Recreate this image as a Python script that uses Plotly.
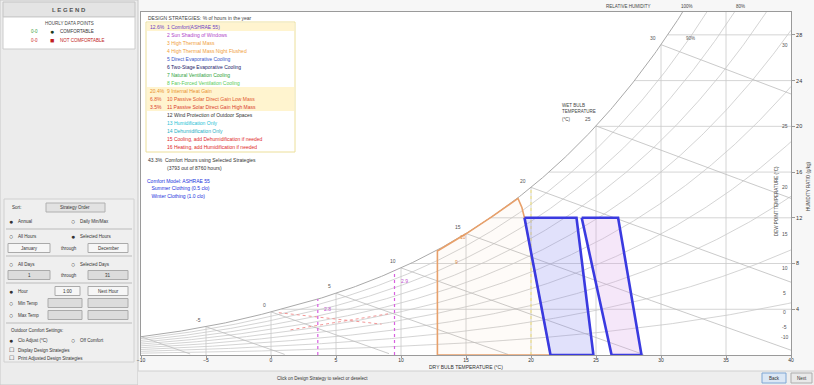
import numpy as np
import plotly.graph_objects as go

# ---------------------------------------------------------------- page geometry
FIG_W, FIG_H = 814, 385
ML, MR, MT, MB = 141, 23, 12, 30
PW = FIG_W - ML - MR
PH = FIG_H - MT - MB
P_ATM = 101.325  # kPa
FONT = "Liberation Sans"

# ---------------------------------------------------------------- chart values
dry_bulb_ticks = [-10, -5, 0, 5, 10, 15, 20, 25, 30, 35, 40]
humidity_ticks = [4, 8, 12, 16, 20, 24, 28]          # g/kg
rh_levels = [0.1, 0.2, 0.3, 0.4, 0.5, 0.6, 0.7, 0.8, 0.9]
wet_bulb_levels = [-10, -5, 0, 5, 10, 15, 20, 25, 30]
dew_point_levels = [-10, -5, 0, 5, 10, 15, 20, 25, 30]

# ASHRAE 55 comfort zones (dry bulb °C, humidity ratio g/kg)
winter_zone_t = [19.5, 23.5, 24.8, 21.5, 19.5]
winter_zone_w = [12.0, 12.0, 0.0, 0.0, 12.0]
summer_zone_t = [23.9, 26.7, 28.5, 26.2, 23.9]
summer_zone_w = [12.0, 12.0, 0.0, 0.0, 12.0]

# passive solar direct gain zone
solar_zone_t = [12.8, 12.8, 15.0, 17.0, 19.0, 19.3, 19.5, 21.5, 12.8]
solar_zone_w = [0.0, 9.1, 10.6, 12.1, 13.7, 12.9, 12.0, 0.0, 0.0]

# humidification limits (dry bulb °C, top humidity ratio g/kg)
humid_limit_t = [3.6, 9.5]
humid_limit_w = [4.9, 7.4]
humid_limit_lbl = ["2.8", "2.9"]

# internal heat gain guide lines
heat_gain_t = [[0.6, 8.5], [1.5, 9.0]]
heat_gain_w = [[3.7, 2.7], [2.2, 3.6]]

# sun shading boundary
shading_t = 20.0

# design strategies list
strategy_names = [
    "1 Comfort(ASHRAE 55)",
    "2 Sun Shading of Windows",
    "3 High Thermal Mass",
    "4 High Thermal Mass Night Flushed",
    "5 Direct Evaporative Cooling",
    "6 Two-Stage Evaporative Cooling",
    "7 Natural Ventilation Cooling",
    "8 Fan-Forced Ventilation Cooling",
    "9 Internal Heat Gain",
    "10 Passive Solar Direct Gain Low Mass",
    "11 Passive Solar Direct Gain High Mass",
    "12 Wind Protection of Outdoor Spaces",
    "13 Humidification Only",
    "14 Dehumidification Only",
    "15 Cooling, add Dehumidification if needed",
    "16 Heating, add Humidification if needed",
]
strategy_pct = ["12.6%", "", "", "", "", "", "", "", "20.4%", "6.8%", "3.5%",
                "", "", "", "", ""]
strategy_colors = ["#6b3fc4", "#b145c9", "#f0a03c", "#f0a03c", "#3a55c8",
                   "#22226a", "#2f9f3a", "#58cc58", "#e8902e", "#e2572e",
                   "#d93a2e", "#333333", "#26c0d4", "#26b0c4", "#e02a2a",
                   "#e02a2a"]
total_pct = "43.3%"
total_hours = 3793


# ---------------------------------------------------------------- psychrometrics
def p_ws(t):
    t = np.asarray(t, dtype=float)
    water = 0.61094 * np.exp(17.625 * t / (t + 243.04))
    ice = 0.61115 * np.exp(22.452 * t / (272.55 + t))
    return np.where(t < 0, ice, water)


def w_rh(t, rh):
    pv = rh * p_ws(t)
    return 622.0 * pv / (P_ATM - pv)


def w_wet_bulb(t, twb):
    ws = w_rh(twb, 1.0) / 1000.0
    w = ((2501 - 2.326 * twb) * ws - 1.006 * (t - twb)) / (2501 + 1.86 * t - 4.186 * twb)
    return 1000.0 * w


t_fine = np.linspace(-10, 40, 401)
w_sat = w_rh(t_fine, 1.0)


def dew_point(w):
    return float(np.interp(w, w_sat, t_fine))


def px(x):
    return (x - ML) / PW


def py(y):
    return (FIG_H - MB - y) / PH


fig = go.Figure()
GRID = "#c9c9c9"

# RH curves
xs, ys = [], []
for rh in rh_levels:
    xs += list(t_fine) + [None]
    ys += list(w_rh(t_fine, rh)) + [None]
fig.add_trace(go.Scatter(x=xs, y=ys, mode="lines", line=dict(color=GRID, width=0.8),
                         hoverinfo="skip", showlegend=False))

# dry bulb verticals up to saturation, humidity ratio horizontals from saturation
xs, ys = [], []
for t in dry_bulb_ticks[1:-1]:
    xs += [t, t, None]
    ys += [0, min(30, float(w_rh(t, 1.0))), None]
for w in humidity_ticks:
    xs += [dew_point(w), 40, None]
    ys += [w, w, None]
fig.add_trace(go.Scatter(x=xs, y=ys, mode="lines", line=dict(color=GRID, width=0.8),
                         hoverinfo="skip", showlegend=False))

# wet bulb lines
xs, ys = [], []
for twb in wet_bulb_levels:
    tt = np.linspace(twb, 40, 120)
    ww = w_wet_bulb(tt, twb)
    keep = ww >= 0
    xs += list(tt[keep]) + [None]
    ys += list(ww[keep]) + [None]
fig.add_trace(go.Scatter(x=xs, y=ys, mode="lines", line=dict(color="#bdbdbd", width=0.8),
                         hoverinfo="skip", showlegend=False))

# saturation curve
fig.add_trace(go.Scatter(x=t_fine, y=w_sat, mode="lines", line=dict(color="#a9a9a9", width=1),
                         hoverinfo="skip", showlegend=False))

# sun shading boundary
fig.add_trace(go.Scatter(x=[shading_t, shading_t], y=[0, float(w_rh(shading_t, 1.0))],
                         mode="lines", line=dict(color="#f2e27a", width=1, dash="dot"),
                         hoverinfo="skip", showlegend=False))

# internal heat gain guides
for tt, ww in zip(heat_gain_t, heat_gain_w):
    fig.add_trace(go.Scatter(x=tt, y=ww, mode="lines",
                             line=dict(color="#f08a8a", width=0.9, dash="dot"),
                             hoverinfo="skip", showlegend=False))

# humidification limits
for t, w in zip(humid_limit_t, humid_limit_w):
    fig.add_trace(go.Scatter(x=[t, t], y=[0, w], mode="lines",
                             line=dict(color="#d860e0", width=1.2, dash="dot"),
                             hoverinfo="skip", showlegend=False))

# passive solar zone
fig.add_trace(go.Scatter(x=solar_zone_t, y=solar_zone_w, mode="lines",
                         line=dict(color="#e8a06a", width=1.6),
                         fill="toself", fillcolor="rgba(240,170,110,0.05)",
                         hoverinfo="skip", showlegend=False))

# comfort zones
fig.add_trace(go.Scatter(x=winter_zone_t, y=winter_zone_w, mode="lines",
                         line=dict(color="#3a3ae0", width=2.6),
                         fill="toself", fillcolor="rgba(120,120,235,0.22)",
                         hoverinfo="skip", showlegend=False))
fig.add_trace(go.Scatter(x=summer_zone_t, y=summer_zone_w, mode="lines",
                         line=dict(color="#3a3ae0", width=2.6),
                         fill="toself", fillcolor="rgba(215,160,230,0.25)",
                         hoverinfo="skip", showlegend=False))

ann = []
shapes = []


def text(x, y, s, size=5.5, color="#333", anchor="left", angle=0, bold=False, ref="px"):
    if bold:
        s = "<b>" + s + "</b>"
    if ref == "px":
        ann.append(dict(x=px(x), y=py(y), xref="paper", yref="paper", text=s,
                        showarrow=False, xanchor=anchor, yanchor="middle", textangle=angle,
                        font=dict(size=size, color=color, family=FONT)))
    else:
        ann.append(dict(x=x, y=y, xref="x", yref="y", text=s, showarrow=False,
                        xanchor=anchor, yanchor="middle", textangle=angle,
                        font=dict(size=size, color=color, family=FONT)))


def rect(x0, y0, x1, y1, fill=None, line="#aaa", width=1, layer="above"):
    shapes.append(dict(type="rect", xref="paper", yref="paper",
                       x0=px(x0), x1=px(x1), y0=py(y1), y1=py(y0),
                       fillcolor=fill if fill else "rgba(0,0,0,0)",
                       line=dict(color=line if line else "rgba(0,0,0,0)", width=width),
                       layer=layer))


def hline(x0, x1, y, color="#bbb"):
    shapes.append(dict(type="line", xref="paper", yref="paper", x0=px(x0), x1=px(x1),
                       y0=py(y), y1=py(y), line=dict(color=color, width=1)))


# saturation labels and dew point labels
for t in wet_bulb_levels:
    text(t - 0.25, float(w_rh(t, 1.0)) + 0.6, str(t), size=5, color="#555", anchor="right", ref="data")
for t in dew_point_levels:
    text(39.5, float(w_rh(t, 1.0)), str(t), size=5, color="#555", anchor="center", ref="data")

# zone numbers and humidification labels
text(14.8, 10.3, "10", size=5, color="#e09050", anchor="center", ref="data")
text(14.3, 8.1, "9", size=5, color="#e09050", anchor="center", ref="data")
for t, w, s in zip(humid_limit_t, humid_limit_w, humid_limit_lbl):
    text(t + 0.35, w - 0.9, s, size=5, color="#c050d0", anchor="left", ref="data")

# chart labels
text(560, 105, "WET BULB", size=4.5, color="#444")
text(560, 112, "TEMPERATURE", size=4.5, color="#444")
text(560, 119, "(°C)", size=4.5, color="#444")
text(628, 6, "RELATIVE HUMIDITY", size=4.5, color="#444", anchor="center")
text(687, 6, "100%", size=4.5, color="#444", anchor="center")
text(740, 6, "80%", size=4.5, color="#444", anchor="center")
text(690, 38, "90%", size=4.5, color="#555", anchor="center")
text(777, 201, "DEW POINT TEMPERATURE (°C)", size=4.5, color="#444", anchor="center", angle=-90)
text(808, 186, "HUMIDITY RATIO (g/kg)", size=4.5, color="#444", anchor="center", angle=-90)
text(466, 367, "DRY BULB TEMPERATURE (°C)", size=5, color="#333", anchor="center")

# design strategy list
text(146, 18, "DESIGN STRATEGIES: % of hours in the year", size=5, color="#444")
rect(146, 22, 295, 152, fill="rgba(0,0,0,0)", line="#ecdf9a", width=1)
for i, (name, pct, col) in enumerate(zip(strategy_names, strategy_pct, strategy_colors)):
    y = 27 + 8 * i
    if pct:
        rect(147, y - 4, 294, y + 4, fill="#fff4cf", line=None, width=0, layer="below")
        text(148, y, pct, size=5, color=col)
    text(165, y, name, size=5, color=col)
text(146, 160, total_pct + "  Comfort Hours using Selected Strategies", size=5, color="#333")
text(165, 168, "(" + str(total_hours) + " out of 8760 hours)", size=5, color="#333")
text(145, 181, "Comfort Model: ASHRAE 55", size=5, color="#2233dd")
text(148, 188, " Summer Clothing (0.5 clo)", size=5, color="#2233dd")
text(148, 196, " Winter Clothing (1.0 clo)", size=5, color="#2233dd")

# ---------------------------------------------------------------- left panel
rect(0, 0, 138, 385, fill="#ececec", line="#c8c8c8", layer="below")
rect(3, 2, 135, 17, fill="#e4e4e4", line="#c4c4c4")
text(69, 10, "L E G E N D", size=6, color="#555", anchor="center", bold=True)
rect(3, 17, 135, 49, fill="#ffffff", line="#cccccc")
text(69, 24, "HOURLY DATA POINTS", size=4.5, color="#444", anchor="center")
text(40, 32, "0-0", size=4.5, color="#3aa040", anchor="right")
text(52, 32, "●", size=7, color="#1a3a1a", anchor="center")
text(58, 32, "COMFORTABLE", size=4.5, color="#333")
text(40, 41, "0-0", size=4.5, color="#d03030", anchor="right")
text(52, 41, "■", size=7, color="#c02020", anchor="center")
text(58, 41, "NOT COMFORTABLE", size=4.5, color="#c02020")

rect(4, 199, 134, 362, fill="#efefef", line="#d0d0d0")
text(10, 207, "Sort:", size=4.5)
rect(46, 203, 105, 212, fill="#e2e2e2", line="#b0b0b0")
text(75, 207.5, "Strategy Order", size=4.5, anchor="center")


def radio(x, y, on, label):
    text(x, y, "●" if on else "○", size=7, color="#333", anchor="center")
    text(x + 5, y, label, size=4.5)


def box(x0, x1, y, label, fill="#f6f6f6"):
    rect(x0, y - 4.5, x1, y + 4.5, fill=fill, line="#aaaaaa")
    text((x0 + x1) / 2, y, label, size=4.5, anchor="center")


radio(11, 221, True, "Annual")
radio(73, 221, False, "Daily Min/Max")
hline(6, 132, 229)
radio(11, 237, False, "All Hours")
radio(73, 237, True, "Selected Hours")
box(8, 50, 248, "January")
text(69, 248, "through", size=4.5, anchor="center")
box(88, 128, 248, "December")
hline(6, 132, 256)
radio(11, 264, False, "All Days")
radio(73, 264, False, "Selected Days")
box(8, 50, 275, "1", fill="#dcdcdc")
text(69, 275, "through", size=4.5, anchor="center")
box(88, 128, 275, "31", fill="#dcdcdc")
hline(6, 132, 283)
radio(11, 291, True, "Hour")
box(55, 80, 291, "1:00")
box(88, 128, 291, "Next Hour")
radio(11, 303, False, "Min Temp")
box(48, 82, 303, "", fill="#dcdcdc")
box(88, 128, 303, "", fill="#dcdcdc")
radio(11, 315, False, "Max Temp")
box(48, 82, 315, "", fill="#dcdcdc")
box(88, 128, 315, "", fill="#dcdcdc")
hline(6, 132, 323)
text(9, 330, "Outdoor Comfort Settings:", size=4.5)
radio(11, 340, True, "Clo Adjust (°C)")
radio(73, 340, False, "Off Comfort")
text(11, 350, "☐", size=6, anchor="center")
text(16, 350, "Display Design Strategies", size=4.5)
text(11, 358, "☐", size=6, anchor="center")
text(16, 358, "Print Adjusted Design Strategies", size=4.5)

# ---------------------------------------------------------------- bottom strip
rect(138, 371, 814, 385, fill="#eeeeee", line=None, width=0, layer="below")
hline(138, 814, 371, color="#d0d0d0")
text(322, 378, "Click on Design Strategy to select or deselect", size=4.5, color="#333", anchor="center")
rect(762, 373, 786, 383, fill="#dbe7f5", line="#7fa6d4")
text(774, 378, "Back", size=4.5, anchor="center")
rect(791, 373, 812, 383, fill="#e9e9e9", line="#adadad")
text(801.5, 378, "Next", size=4.5, anchor="center")

fig.update_layout(
    width=FIG_W, height=FIG_H,
    margin=dict(l=ML, r=MR, t=MT, b=MB),
    paper_bgcolor="#f7f7f7", plot_bgcolor="#ffffff",
    showlegend=False,
    font=dict(family=FONT, size=6, color="#333"),
    annotations=ann, shapes=shapes,
    xaxis=dict(range=[-10, 40], tickvals=dry_bulb_ticks, showgrid=False, zeroline=False,
               ticks="outside", ticklen=2, tickcolor="#999", tickfont=dict(size=5),
               ticklabelstandoff=-2,
               showline=True, mirror=True, linecolor="#9a9a9a", linewidth=1, fixedrange=True),
    yaxis=dict(range=[0, 30], side="right", tickvals=humidity_ticks, showgrid=False,
               zeroline=False, ticks="outside", ticklen=3, tickcolor="#999",
               tickfont=dict(size=5.5), showline=True, mirror=True, linecolor="#9a9a9a",
               linewidth=1, fixedrange=True),
)

fig.write_html("out.html")
